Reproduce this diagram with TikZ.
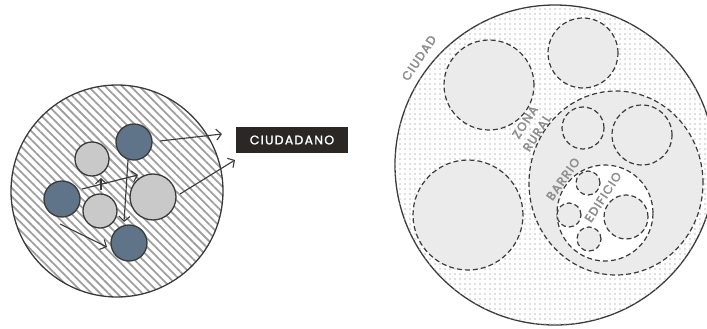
\documentclass[tikz,border=0pt]{standalone}
\usepackage{fontspec}
\setmainfont{Poppins}
\newfontfamily\labfont[LetterSpace=10,FakeBold=3]{Poppins}
\newfontfamily\boxfont[LetterSpace=10,FakeBold=1.5]{Poppins}
\usetikzlibrary{arrows.meta,patterns.meta,shapes.geometric}
\definecolor{slate}{HTML}{5F7488}
\definecolor{lgray}{HTML}{C9C9C9}
\definecolor{edge}{HTML}{3A3A3A}
\definecolor{zone}{HTML}{EBEBEB}
\definecolor{boxc}{HTML}{2B2724}
\definecolor{lab}{HTML}{8E8E8E}
\begin{document}
\begin{tikzpicture}[x=1pt,y=-1pt,
  dark/.style={circle,draw=edge,line width=1.3pt,fill=slate,minimum size=#1,inner sep=0pt},
  light/.style={circle,draw=edge,line width=1.3pt,fill=lgray,minimum size=#1,inner sep=0pt},
  arr/.style={draw=edge,line width=1.1pt,-{Straight Barb[length=5pt,width=11pt]}},
  dz/.style={circle,draw=edge,dash pattern=on 5pt off 3pt,line width=1.2pt,fill=zone,minimum size=#1,inner sep=0pt},
  lbl/.style={text=lab,font=\labfont\fontsize{12}{12}\selectfont,inner sep=0pt}
]
\useasboundingbox (0,0) rectangle (707,329);
\clip (0,0) rectangle (707,329);
% left group
\node[circle,draw=edge,line width=1.3pt,minimum size=212pt,inner sep=0pt,
  pattern={Lines[angle=-45,distance=6pt,line width=1.8pt]},pattern color=gray!75] (grp) at (117,191) {};
\node[dark=36pt] (dT) at (134,142) {};
\node[light=34pt] (lUL) at (92,159) {};
\node[dark=36pt] (dL) at (62,199) {};
\node[light=34pt] (lM) at (100,211) {};
\node[light=46pt] (lR) at (153,197) {};
\node[dark=36pt] (dB) at (129,243) {};
\node[fill=boxc,text=white,minimum width=112pt,minimum height=26pt,inner sep=0pt,
  font=\boxfont\fontsize{12.5}{12.5}\selectfont] (cit) at (292,140) {CIUDADANO};
\coordinate (s1) at (160,141); \coordinate (e1) at (222,134);
\coordinate (s2) at (180,194); \coordinate (e2) at (235,160);
\coordinate (s3) at (82,189);  \coordinate (e3) at (138,175);
\coordinate (s4) at (101,190); \coordinate (e4) at (101,178);
\coordinate (s5) at (128,160); \coordinate (e5) at (124,222);
\coordinate (s6) at (60,224);  \coordinate (e6) at (107,247);
\draw[arr] (s1) -- (e1);
\draw[arr] (s2) -- (e2);
\draw[arr] (s3) -- (e3);
\draw[arr] (s4) -- (e4);
\draw[arr] (s5) -- (e5);
\draw[arr] (s6) -- (e6);
% right group
\node[circle,draw=edge,line width=1.3pt,minimum size=320pt,inner sep=0pt,fill=white,
  postaction={pattern={Dots[radius=0.9pt,distance=5pt]},pattern color=gray!50}] (city) at (555,165) {};
\node[dz=90pt] (z1) at (489,85) {};
\node[dz=70pt] (z2) at (583,53) {};
\node[dz=110pt] (z3) at (468,215) {};
\node[ellipse,draw=edge,dash pattern=on 5pt off 3pt,line width=1.2pt,fill=zone,
  minimum width=174pt,minimum height=184pt,inner sep=0pt] (bar) at (616,183) {};
\node[dz=42pt] (b1) at (583,128) {};
\node[dz=60pt] (b2) at (642,135) {};
\node[dz=96pt,fill=white] (edi) at (605,213) {};
\node[dz=24pt] (e1c) at (588,183) {};
\node[dz=24pt] (e2c) at (569,215) {};
\node[dz=24pt] (e3c) at (589,239) {};
\node[dz=44pt] (e4c) at (626,217) {};
\node[lbl,rotate=56] (lc) at (419,58) {CIUDAD};
\node[lbl,rotate=57] (lz) at (525,122) {ZONA};
\node[lbl,rotate=57] (lr) at (537,133) {RURAL};
\node[lbl,rotate=55] (lb) at (563,179) {BARRIO};
\node[lbl,rotate=57] (le) at (603,197) {EDIFICIO};
\end{tikzpicture}
\end{document}
